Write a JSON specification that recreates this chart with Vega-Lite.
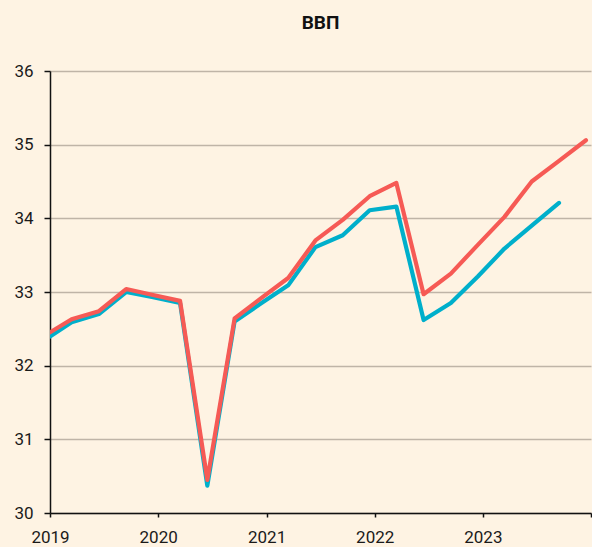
{
  "$schema": "https://vega.github.io/schema/vega-lite/v6.json",
  "autosize": {"type": "none"},
  "padding": {"left": 50, "top": 71, "right": 1, "bottom": 34},
  "width": 541,
  "height": 442,
  "background": "#FEF3E3",
  "config": {
    "view": {"stroke": null},
    "font": "Roboto"
  },
  "title": {
    "text": "ВВП",
    "font": "Roboto",
    "fontSize": 19,
    "fontWeight": "bold",
    "color": "#111111",
    "anchor": "middle",
    "frame": "group",
    "baseline": "alphabetic",
    "offset": 14
  },
  "data": {
    "values": [
      {"date": "2018-12-15", "series": "Сценарий 1", "value": 32.35},
      {"date": "2019-03-15", "series": "Сценарий 1", "value": 32.59},
      {"date": "2019-06-15", "series": "Сценарий 1", "value": 32.70},
      {"date": "2019-09-15", "series": "Сценарий 1", "value": 33.00},
      {"date": "2019-12-15", "series": "Сценарий 1", "value": 32.93},
      {"date": "2020-03-15", "series": "Сценарий 1", "value": 32.85},
      {"date": "2020-06-15", "series": "Сценарий 1", "value": 30.37},
      {"date": "2020-09-15", "series": "Сценарий 1", "value": 32.60},
      {"date": "2020-12-15", "series": "Сценарий 1", "value": 32.85},
      {"date": "2021-03-15", "series": "Сценарий 1", "value": 33.09},
      {"date": "2021-06-15", "series": "Сценарий 1", "value": 33.61},
      {"date": "2021-09-15", "series": "Сценарий 1", "value": 33.77},
      {"date": "2021-12-15", "series": "Сценарий 1", "value": 34.11},
      {"date": "2022-03-15", "series": "Сценарий 1", "value": 34.16},
      {"date": "2022-06-15", "series": "Сценарий 1", "value": 32.62},
      {"date": "2022-09-15", "series": "Сценарий 1", "value": 32.85},
      {"date": "2022-12-15", "series": "Сценарий 1", "value": 33.21},
      {"date": "2023-03-15", "series": "Сценарий 1", "value": 33.59},
      {"date": "2023-06-15", "series": "Сценарий 1", "value": 33.90},
      {"date": "2023-09-15", "series": "Сценарий 1", "value": 34.21},
      {"date": "2018-12-15", "series": "Сценарий 2", "value": 32.41},
      {"date": "2019-03-15", "series": "Сценарий 2", "value": 32.63},
      {"date": "2019-06-15", "series": "Сценарий 2", "value": 32.74},
      {"date": "2019-09-15", "series": "Сценарий 2", "value": 33.04},
      {"date": "2019-12-15", "series": "Сценарий 2", "value": 32.96},
      {"date": "2020-03-15", "series": "Сценарий 2", "value": 32.88},
      {"date": "2020-06-15", "series": "Сценарий 2", "value": 30.45},
      {"date": "2020-09-15", "series": "Сценарий 2", "value": 32.64},
      {"date": "2020-12-15", "series": "Сценарий 2", "value": 32.92},
      {"date": "2021-03-15", "series": "Сценарий 2", "value": 33.19},
      {"date": "2021-06-15", "series": "Сценарий 2", "value": 33.70},
      {"date": "2021-09-15", "series": "Сценарий 2", "value": 33.98},
      {"date": "2021-12-15", "series": "Сценарий 2", "value": 34.30},
      {"date": "2022-03-15", "series": "Сценарий 2", "value": 34.48},
      {"date": "2022-06-15", "series": "Сценарий 2", "value": 32.97},
      {"date": "2022-09-15", "series": "Сценарий 2", "value": 33.25},
      {"date": "2022-12-15", "series": "Сценарий 2", "value": 33.64},
      {"date": "2023-03-15", "series": "Сценарий 2", "value": 34.02},
      {"date": "2023-06-15", "series": "Сценарий 2", "value": 34.50},
      {"date": "2023-09-15", "series": "Сценарий 2", "value": 34.78},
      {"date": "2023-12-15", "series": "Сценарий 2", "value": 35.06}
    ]
  },
  "mark": {"type": "line", "strokeWidth": 4.2, "strokeJoin": "round", "strokeCap": "round", "clip": true},
  "encoding": {
    "x": {
      "field": "date",
      "type": "temporal",
      "scale": {"type": "utc", "domain": ["2019-01-01", "2024-01-01"], "nice": false},
      "axis": {
        "title": null,
        "grid": false,
        "values": ["2019-01-01", "2020-01-01", "2021-01-01", "2022-01-01", "2023-01-01", "2024-01-01"],
        "labelExpr": "utcFormat(datum.value, '%Y') == '2024' ? '' : utcFormat(datum.value, '%Y')",
        "labelFont": "Roboto",
        "labelFontSize": 17,
        "labelColor": "#1a1a1a",
        "labelPadding": 12,
        "labelFlush": false,
        "labelOverlap": false,
        "tickSize": 4,
        "tickColor": "#111111",
        "tickWidth": 1.5,
        "domainColor": "#111111",
        "domainWidth": 1.5
      }
    },
    "y": {
      "field": "value",
      "type": "quantitative",
      "scale": {"domain": [30, 36], "nice": false, "zero": false},
      "axis": {
        "title": null,
        "values": [30, 31, 32, 33, 34, 35, 36],
        "grid": true,
        "gridColor": "#BFB4A7",
        "gridWidth": 1.5,
        "labelFont": "Roboto",
        "labelFontSize": 17,
        "labelColor": "#1a1a1a",
        "labelPadding": 11,
        "tickSize": 6,
        "tickColor": "#111111",
        "tickWidth": 1.5,
        "domainColor": "#111111",
        "domainWidth": 1.5
      }
    },
    "color": {
      "field": "series",
      "type": "nominal",
      "scale": {"domain": ["Сценарий 1", "Сценарий 2"], "range": ["#00AFCB", "#F65A55"]},
      "legend": null
    },
    "order": {"field": "date"}
  }
}
